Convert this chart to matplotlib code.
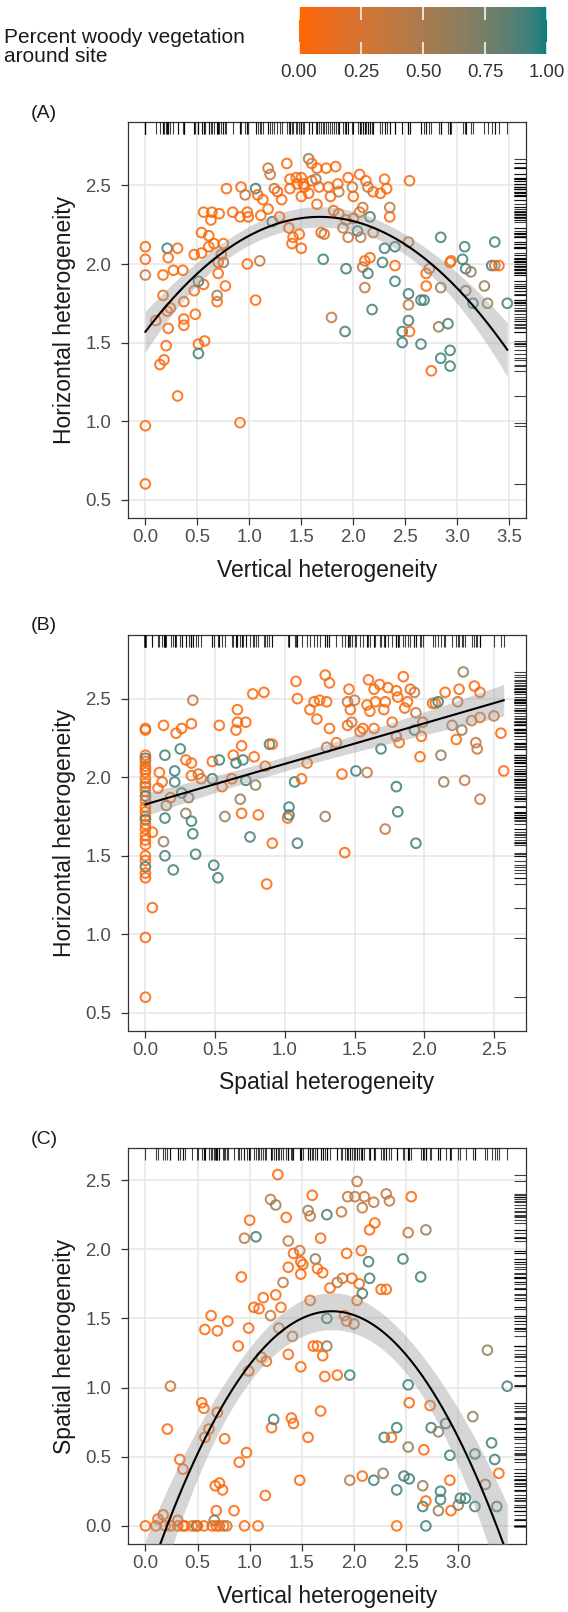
import numpy as np
import matplotlib
matplotlib.use('Agg')
import matplotlib.pyplot as plt
from matplotlib.colors import ListedColormap, Normalize
from matplotlib.cm import ScalarMappable

plt.rcParams['font.family'] = ['Liberation Sans', 'DejaVu Sans']

# woody cover levels
O, B, G, T = 0.03, 0.35, 0.6, 0.92

# ---- panel A: vertical vs horizontal heterogeneity
a_vert = [0.00, 0.00, 0.00, 0.00, 0.00, 0.21, 0.31, 0.22, 0.17, 0.17,
          0.14, 0.18, 0.20, 0.22, 0.31, 0.27, 0.36, 0.37, 0.37, 0.37,
          0.24, 0.10, 0.21, 0.47, 0.54, 0.47, 0.56, 0.51, 0.48, 0.51,
          0.51, 0.57, 0.54, 0.61, 0.56, 0.64, 0.63, 0.61, 0.66, 0.71,
          0.70, 0.69, 0.69, 0.77, 0.75, 0.75, 0.73, 0.70, 0.78, 0.84,
          0.91, 0.92, 0.98, 0.99, 0.96, 0.98, 1.06, 1.08, 1.10, 1.06,
          0.91, 1.11, 1.18, 1.13, 1.18, 1.20, 1.24, 1.27, 1.22, 1.31,
          1.36, 1.29, 1.39, 1.38, 1.42, 1.41, 1.39, 1.45, 1.50, 1.46,
          1.52, 1.57, 1.60, 1.50, 1.48, 1.50, 1.53, 1.57, 1.60, 1.64,
          1.65, 1.67, 1.65, 1.69, 1.72, 1.71, 1.74, 1.76, 1.78, 1.83,
          1.85, 1.86, 1.79, 1.81, 1.86, 1.90, 1.93, 1.95, 1.99, 2.00,
          1.95, 1.93, 1.92, 2.06, 2.00, 2.04, 2.07, 2.06, 2.09, 2.12,
          2.14, 2.16, 2.11, 2.16, 2.09, 2.14, 2.11, 2.18, 2.19, 2.26,
          2.30, 2.32, 2.35, 2.35, 2.19, 2.30, 2.28, 2.40, 2.40, 2.40,
          2.53, 2.54, 2.53, 2.53, 2.53, 2.47, 2.47, 2.54, 2.65, 2.68,
          2.65, 2.70, 2.70, 2.73, 2.75, 2.84, 2.84, 2.82, 2.91, 2.84,
          2.93, 2.93, 2.93, 2.94, 3.05, 3.07, 3.08, 3.13, 3.08, 3.15,
          3.26, 3.29, 3.36, 3.33, 3.36, 3.40, 3.48]
a_horiz = [2.11, 2.03, 1.93, 0.97, 0.60, 2.10, 2.10, 2.04, 1.93, 1.80,
           1.36, 1.39, 1.48, 1.59, 1.16, 1.96, 1.96, 1.76, 1.65, 1.61,
           1.72, 1.64, 1.70, 2.06, 2.07, 1.83, 1.87, 1.89, 1.68, 1.49,
           1.43, 1.51, 2.20, 2.18, 2.33, 2.33, 2.28, 2.11, 2.13, 2.32,
           1.94, 1.80, 1.76, 1.86, 2.01, 2.13, 2.06, 2.01, 2.48, 2.33,
           2.30, 2.49, 2.33, 2.30, 2.44, 2.00, 2.48, 2.44, 2.02, 1.77,
           0.99, 2.31, 2.35, 2.41, 2.61, 2.57, 2.48, 2.46, 2.27, 2.41,
           2.64, 2.30, 2.48, 2.23, 2.17, 2.13, 2.54, 2.55, 2.55, 2.51,
           2.51, 2.67, 2.64, 2.43, 2.19, 2.10, 2.49, 2.45, 2.53, 2.54,
           2.61, 2.49, 2.38, 2.20, 2.19, 2.03, 2.61, 2.49, 2.43, 2.62,
           2.51, 2.46, 1.66, 2.34, 2.32, 2.23, 2.28, 2.55, 2.49, 2.43,
           2.17, 1.97, 1.57, 2.57, 2.29, 2.21, 2.17, 2.33, 2.36, 2.53,
           2.49, 2.30, 2.02, 2.04, 1.98, 1.94, 1.85, 1.71, 2.46, 2.45,
           2.54, 2.48, 2.36, 2.30, 2.20, 2.10, 2.01, 2.11, 1.99, 1.89,
           2.14, 2.53, 1.81, 1.74, 1.64, 1.57, 1.50, 1.57, 1.77, 1.77,
           1.49, 1.94, 1.86, 1.97, 1.32, 2.17, 1.85, 1.60, 1.62, 1.40,
           1.45, 1.35, 2.01, 2.02, 2.03, 2.11, 1.97, 1.95, 1.83, 1.75,
           1.86, 1.75, 2.14, 1.99, 1.99, 1.99, 1.75]
a_woody = [O, O, B, O, O, T, O, O, O, O,
           O, O, O, O, O, O, O, O, O, O,
           O, O, O, O, O, O, O, T, O, O,
           T, O, O, O, O, O, O, O, O, O,
           O, G, O, O, G, O, O, O, O, O,
           O, O, O, O, B, O, T, O, B, O,
           O, O, O, O, B, B, B, O, T, O,
           O, O, O, O, O, O, O, O, O, O,
           O, G, O, O, O, O, O, O, O, G,
           O, O, O, O, B, T, O, O, O, O,
           O, B, B, O, O, B, B, O, B, O,
           B, T, T, O, B, T, B, O, B, O,
           B, T, O, O, B, T, B, T, O, O,
           O, O, B, O, B, T, T, T, O, T,
           B, O, T, B, T, T, T, O, T, T,
           T, O, O, B, O, T, G, G, T, T,
           T, T, O, O, T, T, T, G, G, T,
           G, G, T, T, B, O, T]

# ---- panel B: spatial vs horizontal heterogeneity
b_spatial = [0.00] * 30 + [
    0.05, 0.05, 0.09, 0.10, 0.13, 0.12, 0.14, 0.14, 0.14, 0.13,
    0.15, 0.21, 0.21, 0.22, 0.25, 0.26, 0.20, 0.18, 0.26, 0.29,
    0.33, 0.29, 0.31, 0.33, 0.34, 0.34, 0.33, 0.33, 0.38, 0.36,
    0.40, 0.48, 0.48, 0.49, 0.52, 0.53, 0.53, 0.55, 0.57, 0.62,
    0.63, 0.65, 0.65, 0.66, 0.66, 0.68, 0.69, 0.70, 0.72, 0.69,
    0.72, 0.75, 0.77, 0.78, 0.79, 0.81, 0.85, 0.86, 0.87, 0.89,
    0.91, 0.91, 1.02, 1.03, 1.03, 1.07, 1.08, 1.09, 1.09, 1.12,
    1.16, 1.18, 1.21, 1.23, 1.25, 1.29, 1.32, 1.30, 1.32, 1.29,
    1.37, 1.30, 1.41, 1.43, 1.45, 1.45, 1.46, 1.47, 1.50, 1.48,
    1.51, 1.54, 1.56, 1.59, 1.60, 1.59, 1.61, 1.64, 1.64, 1.65,
    1.68, 1.69, 1.71, 1.72, 1.72, 1.74, 1.77, 1.80, 1.80, 1.81,
    1.82, 1.80, 1.81, 1.85, 1.86, 1.88, 1.90, 1.93, 1.93, 1.94,
    1.97, 1.98, 1.99, 1.94, 2.06, 2.08, 2.10, 2.12, 2.14, 2.15,
    2.20, 2.23, 2.25, 2.24, 2.27, 2.28, 2.29, 2.34, 2.36, 2.37,
    2.38, 2.40, 2.40, 2.40, 2.50, 2.55, 2.57]
b_horiz = [
    2.31, 2.30, 2.14, 2.12, 2.10, 2.07, 2.05, 2.03, 1.99, 1.96,
    1.94, 1.91, 1.88, 1.85, 1.81, 1.78, 1.75, 1.73, 1.70, 1.67,
    1.63, 1.60, 1.57, 1.50, 1.47, 1.43, 1.39, 1.36, 0.98, 0.60,
    1.17, 1.65, 1.93, 2.03, 2.33, 1.97, 2.14, 1.74, 1.50, 1.59,
    1.82, 2.04, 1.97, 2.28, 2.18, 2.31, 1.41, 1.87, 1.90, 2.11,
    2.09, 1.77, 1.87, 1.72, 1.64, 2.49, 2.34, 2.01, 2.02, 1.51,
    1.99, 2.10, 1.99, 1.44, 1.36, 2.33, 2.11, 1.94, 1.75, 1.99,
    2.14, 2.09, 2.30, 2.43, 2.35, 1.86, 1.77, 2.11, 2.35, 2.20,
    1.98, 1.62, 2.53, 2.13, 1.95, 1.76, 2.54, 2.07, 1.32, 2.21,
    2.21, 1.58, 1.74, 1.81, 1.76, 1.97, 2.61, 2.50, 1.58, 1.99,
    2.09, 2.43, 2.48, 2.37, 2.49, 2.65, 2.60, 2.48, 2.31, 1.75,
    2.22, 2.19, 2.02, 1.52, 2.33, 2.48, 2.56, 2.43, 2.49, 2.35,
    2.04, 2.29, 2.31, 2.03, 2.62, 2.46, 2.42, 2.31, 2.56, 2.48,
    2.59, 2.18, 2.43, 2.48, 1.67, 2.57, 2.35, 2.26, 2.55, 2.51,
    2.22, 1.94, 1.78, 2.64, 2.44, 2.48, 2.56, 2.54, 2.30, 2.41,
    2.13, 2.26, 2.35, 1.58, 2.47, 2.47, 2.48, 2.14, 1.97, 2.54,
    2.33, 2.24, 2.56, 2.48, 2.30, 2.67, 1.98, 2.36, 2.58, 2.22,
    2.18, 1.86, 2.54, 2.38, 2.39, 2.28, 2.04]
b_woody = [
    O, O, O, T, O, O, O, O, O, O,
    B, O, T, O, O, O, O, T, O, O,
    O, O, O, O, O, T, O, O, O, O,
    O, O, O, O, O, O, T, T, T, G,
    G, T, T, O, T, O, T, O, T, O,
    O, G, G, T, T, B, O, O, B, T,
    O, O, T, T, T, O, T, O, G, O,
    O, T, O, O, O, G, O, T, O, O,
    T, T, O, O, G, O, O, O, O, T,
    O, O, O, T, T, T, O, O, T, O,
    O, O, O, O, O, O, O, O, O, G,
    O, B, O, O, O, B, O, O, B, B,
    T, O, O, B, O, O, O, O, O, O,
    O, T, O, O, B, O, O, B, O, O,
    O, T, T, O, O, O, O, B, T, B,
    O, O, B, T, B, O, T, G, G, O,
    B, O, O, B, G, G, B, B, O, B,
    B, B, O, O, B, O, O]

# ---- panel C: vertical vs spatial heterogeneity
c_vert = [0.00, 0.10, 0.19, 0.24, 0.31, 0.36, 0.38, 0.45, 0.49, 0.50,
          0.56, 0.64, 0.68, 0.71, 0.75, 0.78, 0.95, 1.08, 2.41, 2.69,
          0.12, 0.17, 0.31, 0.21, 0.24, 0.33, 0.36, 0.54, 0.56, 0.57,
          0.61, 0.63, 0.57, 0.69, 0.69, 0.67, 0.71, 0.74, 0.68, 0.66,
          0.76, 0.79, 0.85, 0.89, 0.90, 0.92, 0.97, 0.99, 0.99, 0.95,
          1.00, 1.06, 1.04, 1.09, 1.11, 1.16, 1.15, 1.13, 1.20, 1.21,
          1.23, 1.20, 1.25, 1.27, 1.25, 1.28, 1.30, 1.32, 1.35, 1.37,
          1.37, 1.37, 1.40, 1.41, 1.42, 1.42, 1.48, 1.49, 1.49, 1.51,
          1.49, 1.48, 1.56, 1.56, 1.58, 1.60, 1.63, 1.65, 1.58, 1.61,
          1.65, 1.68, 1.70, 1.70, 1.72, 1.74, 1.74, 1.74, 1.68, 1.77,
          1.84, 1.84, 1.88, 1.89, 1.91, 1.93, 1.93, 1.94, 1.96, 1.96,
          1.98, 2.00, 2.01, 2.03, 2.03, 2.05, 2.07, 2.08, 2.10, 2.08,
          2.15, 2.14, 2.15, 2.08, 2.19, 2.19, 2.20, 2.26, 2.29, 2.31,
          2.31, 2.34, 2.28, 2.36, 2.41, 2.41, 2.47, 2.48, 2.52, 2.52,
          2.52, 2.53, 2.53, 2.55, 2.64, 2.66, 2.67, 2.69, 2.69, 2.73,
          2.74, 2.66, 2.81, 2.81, 2.83, 2.83, 2.88, 2.92, 2.92, 2.93,
          3.00, 3.02, 3.07, 3.14, 3.16, 3.16, 3.26, 3.28, 3.32, 3.35,
          3.37, 3.39, 3.47]
c_spatial = [0.00] * 20 + [
    0.05, 0.08, 0.04, 0.70, 1.01, 0.48, 0.41, 0.89, 0.85, 0.64,
    0.70, 1.52, 1.42, 1.41, 0.82, 0.29, 0.31, 0.26, 0.11, 0.04,
    0.63, 1.48, 0.11, 1.30, 0.46, 1.80, 0.53, 1.43, 1.12, 2.08,
    2.21, 2.09, 1.58, 1.57, 1.22, 1.19, 0.22, 1.65, 1.52, 0.71,
    0.77, 2.36, 2.32, 2.54, 1.67, 1.43, 1.58, 1.76, 2.23, 1.87,
    2.06, 1.24, 0.78, 1.37, 0.74, 1.97, 1.99, 1.91, 1.82, 1.89,
    1.15, 0.33, 0.64, 2.28, 2.24, 2.39, 1.93, 1.86, 1.63, 1.30,
    1.30, 2.08, 1.83, 1.23, 1.08, 2.25, 1.50, 1.30, 0.83, 1.72,
    1.76, 1.09, 2.27, 1.79, 1.52, 1.97, 1.48, 2.38, 1.09, 0.33,
    1.79, 1.46, 2.38, 2.49, 1.63, 1.75, 1.99, 2.30, 2.38, 0.36,
    2.14, 1.91, 1.79, 1.68, 0.33, 2.34, 2.19, 1.71, 0.64, 1.71,
    2.40, 2.35, 0.38, 0.64, 0.71, 0.26, 1.93, 0.36, 1.02, 2.12,
    0.57, 0.89, 0.34, 2.38, 1.80, 0.14, 0.55, 0.18, 2.14, 0.87,
    0.71, 0.29, 0.68, 0.11, 0.25, 0.19, 0.74, 0.51, 0.33, 0.11,
    0.15, 0.20, 0.20, 0.79, 0.52, 0.14, 0.30, 1.27, 0.60, 0.48,
    0.14, 0.38, 1.01]
c_woody = [O, O, O, O, O, O, O, O, T, O,
           O, O, O, O, O, B, O, O, O, T,
           O, O, O, O, B, O, O, O, O, O,
           O, O, O, O, O, O, O, O, O, G,
           O, O, O, O, O, O, O, O, O, B,
           O, T, O, O, O, O, O, O, B, O,
           T, B, G, O, O, B, O, B, O, O,
           B, O, O, B, O, O, B, O, O, O,
           O, O, O, G, B, O, G, O, O, O,
           O, O, O, O, O, T, T, G, O, O,
           B, O, B, B, O, O, B, B, T, B,
           O, B, B, B, O, O, O, B, B, O,
           O, T, T, T, T, B, O, O, T, O,
           B, B, G, O, T, T, T, T, T, B,
           G, O, T, O, T, T, O, O, G, O,
           T, G, G, G, T, T, T, T, O, O,
           G, T, T, G, T, T, G, G, T, T,
           T, O, T]

cbar_ticks = [0.0, 0.25, 0.5, 0.75, 1.0]


def lab_ramp(c0, c1, n=256):
    # ggplot-style gradient: interpolate in CIE Lab
    M = np.array([[0.4124, 0.3576, 0.1805],
                  [0.2126, 0.7152, 0.0722],
                  [0.0193, 0.1192, 0.9505]])
    white = np.array([0.95047, 1.0, 1.08883])

    def to_lab(hexc):
        rgb = np.array([int(hexc[i:i + 2], 16) / 255 for i in (1, 3, 5)])
        lin = np.where(rgb > 0.04045, ((rgb + 0.055) / 1.055) ** 2.4, rgb / 12.92)
        xyz = M @ lin / white
        f = np.where(xyz > 0.008856, np.cbrt(xyz), 7.787 * xyz + 16 / 116)
        return np.array([116 * f[1] - 16, 500 * (f[0] - f[1]), 200 * (f[1] - f[2])])

    def from_lab(lab):
        fy = (lab[0] + 16) / 116
        f = np.array([fy + lab[1] / 500, fy, fy - lab[2] / 200])
        xyz = np.where(f ** 3 > 0.008856, f ** 3, (f - 16 / 116) / 7.787) * white
        lin = np.linalg.solve(M, xyz)
        rgb = np.where(lin > 0.0031308, 1.055 * np.abs(lin) ** (1 / 2.4) - 0.055, 12.92 * lin)
        return np.clip(rgb, 0, 1)

    l0, l1 = to_lab(c0), to_lab(c1)
    return ListedColormap([from_lab(l0 + (l1 - l0) * t) for t in np.linspace(0, 1, n)])


cmap = lab_ramp('#FF6600', '#008080')
norm = Normalize(0, 1)


def fit_band(x, y, deg, xs):
    X = np.vander(x, deg + 1)
    beta = np.linalg.lstsq(X, y, rcond=None)[0]
    resid = y - X @ beta
    s2 = resid @ resid / (len(x) - deg - 1)
    cov = s2 * np.linalg.inv(X.T @ X)
    Xs = np.vander(xs, deg + 1)
    fit = Xs @ beta
    se = np.sqrt(np.einsum('ij,jk,ik->i', Xs, cov, Xs))
    return fit, fit - 1.97 * se, fit + 1.97 * se


W, H = 568, 1612
LEFT, RIGHT, PH = 128, 526, 396
fig = plt.figure(figsize=(W / 100, H / 100), dpi=100)


def panel(top, x, y, w, deg, xlim, ylim, xticks, yticks, xlabel, ylabel, tag):
    x = np.asarray(x)
    y = np.asarray(y)
    ax = fig.add_axes([LEFT / W, 1 - (top + PH) / H, (RIGHT - LEFT) / W, PH / H])
    ax.set_xlim(xlim)
    ax.set_ylim(ylim)
    ax.set_xticks(xticks)
    ax.set_xticklabels([f'{t:.1f}' for t in xticks])
    ax.set_yticks(yticks)
    ax.set_yticklabels([f'{t:.1f}' for t in yticks])
    ax.tick_params(labelsize=13.4, labelcolor='#4D4D4D', color='#333333',
                   length=5, width=0.9)
    ax.tick_params(axis='x', pad=3)
    ax.tick_params(axis='y', pad=7)
    ax.grid(True, color='#E8E8E8', lw=1.2)
    ax.set_axisbelow(True)
    for s in ax.spines.values():
        s.set_color('#333333')
        s.set_linewidth(0.9)

    ax.scatter(x, y, s=48, facecolors='none', edgecolors=cmap(norm(np.asarray(w))),
               linewidths=1.45, alpha=0.85, zorder=2)

    xs = np.linspace(x.min(), x.max(), 200)
    fit, lo, hi = fit_band(x, y, deg, xs)
    ax.fill_between(xs, lo, hi, color='#999999', alpha=0.4, lw=0, zorder=3)
    ax.plot(xs, fit, color='black', lw=1.5, zorder=4)

    # rugs along top and right edge
    ax.vlines(x, 0.97, 1.0, transform=ax.get_xaxis_transform(),
              color='black', lw=0.8, alpha=0.75, zorder=5)
    ax.hlines(y, 0.97, 1.0, transform=ax.get_yaxis_transform(),
              color='black', lw=0.8, alpha=0.75, zorder=5)

    bottom = top + PH
    fig.text(((LEFT + RIGHT) / 2) / W, 1 - (bottom + 52) / H, xlabel,
             ha='center', va='center', fontsize=16.5, color='#1A1A1A')
    fig.text(65 / W, 1 - (top + PH / 2) / H, ylabel, rotation=90,
             ha='center', va='center', fontsize=16.5, color='#1A1A1A')
    fig.text(31 / W, 1 - (top - 9) / H, tag, ha='left', va='center',
             fontsize=14, color='#1A1A1A')
    return ax


panel(122, a_vert, a_horiz, a_woody, 2, (-0.167, 3.66), (0.383, 2.904),
      [0, 0.5, 1, 1.5, 2, 2.5, 3, 3.5], [0.5, 1, 1.5, 2, 2.5],
      'Vertical heterogeneity', 'Horizontal heterogeneity', '(A)')
panel(635, b_spatial, b_horiz, b_woody, 1, (-0.125, 2.73), (0.385, 2.905),
      [0, 0.5, 1, 1.5, 2, 2.5], [0.5, 1, 1.5, 2, 2.5],
      'Spatial heterogeneity', 'Horizontal heterogeneity', '(B)')
panel(1148, c_vert, c_spatial, c_woody, 2, (-0.167, 3.65), (-0.131, 2.732),
      [0, 0.5, 1, 1.5, 2, 2.5, 3], [0, 0.5, 1, 1.5, 2, 2.5],
      'Vertical heterogeneity', 'Spatial heterogeneity', '(C)')

# colour bar legend
cax = fig.add_axes([299 / W, 1 - 54 / H, (547 - 299) / W, 47 / H])
cb = fig.colorbar(ScalarMappable(norm=norm, cmap=cmap), cax=cax, orientation='horizontal')
cb.outline.set_visible(False)
cb.set_ticks(cbar_ticks)
cb.set_ticklabels([f'{t:.2f}' for t in cbar_ticks])
cax.xaxis.set_ticks_position('both')
cax.tick_params(axis='x', direction='in', length=9, width=1.1, color='white',
                labelsize=13.4, labelcolor='#333333', pad=7.5,
                top=True, bottom=True, labeltop=False, labelbottom=True)
fig.text(4 / W, 1 - 47 / H, 'Percent woody vegetation\naround site',
         ha='left', va='center', fontsize=15, linespacing=0.95, color='#1A1A1A')

fig.savefig('out.png', dpi=100)
